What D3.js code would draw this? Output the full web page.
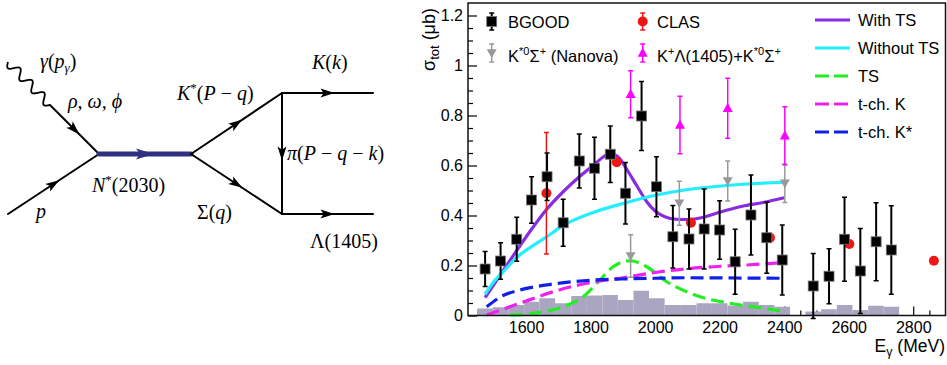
<!DOCTYPE html>
<html>
<head>
<meta charset="utf-8">
<script src="https://cdn.jsdelivr.net/npm/d3@7"></script>
<style>
body{margin:0;background:#fff;}
svg{display:block;}
text{fill:#000;}
</style>
</head>
<body>
<svg width="947" height="365"></svg>
<script>
// BGOOD data (E in MeV, sigma in microbarn)
const bgoodE   = [1473,1521,1571,1617,1665,1715,1765,1812,1861,1908,1958,2004,2055,2105,2152,2200,2248,2297,2346,2394,2490,2539,2587,2636,2685,2732];
const bgoodY   = [0.186,0.218,0.305,0.462,0.555,0.371,0.618,0.589,0.645,0.489,0.798,0.515,0.315,0.306,0.346,0.342,0.215,0.402,0.311,0.222,0.118,0.157,0.305,0.178,0.295,0.262];
const bgoodErr = [0.070,0.073,0.088,0.093,0.095,0.094,0.108,0.124,0.113,0.123,0.138,0.120,0.125,0.120,0.160,0.117,0.130,0.160,0.142,0.140,0.130,0.110,0.168,0.170,0.156,0.177];
const bgoodSys = [0.028,0.033,0.042,0.055,0.069,0.049,0.078,0.080,0.082,0.062,0.099,0.069,0.042,0.042,0.049,0.049,0.040,0.055,0.042,0.035,0.016,0.025,0.042,0.022,0.039,0.035];

// CLAS
const clasE   = [1663,1881,2111,2356,2602,2864];
const clasY   = [0.489,0.613,0.371,0.311,0.286,0.219];
const clasErr = [0.243,0.01,0.01,0.01,0.01,0.01];

// K*0 Sigma+ (Nanova)
const nanovaE   = [1924,2075,2225,2402];
const nanovaY   = [0.238,0.449,0.538,0.529];
const nanovaErr = [0.085,0.088,0.080,0.077];

// K+ Lambda(1405) + K*0 Sigma+
const sumE   = [1924,2077,2225,2402];
const sumY   = [0.885,0.762,0.829,0.719];
const sumErr = [0.094,0.115,0.120,0.116];

// model curves [E, sigma]
const withTS    = [[1473,0.072],[1529,0.180],[1571,0.260],[1617,0.345],[1664,0.425],[1715,0.495],[1765,0.555],[1812,0.605],[1840,0.635],[1862,0.648],[1890,0.628],[1912,0.585],[1945,0.515],[1974,0.455],[2000,0.418],[2030,0.395],[2065,0.385],[2100,0.384],[2150,0.393],[2200,0.413],[2270,0.437],[2335,0.452],[2400,0.471]];
const withoutTS = [[1473,0.085],[1500,0.135],[1529,0.175],[1571,0.232],[1622,0.280],[1664,0.315],[1715,0.360],[1808,0.412],[1912,0.452],[2005,0.482],[2077,0.499],[2180,0.515],[2284,0.526],[2400,0.533]];
const tsOnly    = [[1550,0.002],[1622,0.009],[1715,0.035],[1777,0.075],[1829,0.142],[1870,0.195],[1924,0.219],[1974,0.195],[2036,0.135],[2098,0.095],[2139,0.075],[2232,0.049],[2335,0.029],[2392,0.018]];
const tchK      = [[1478,0.002],[1581,0.049],[1684,0.095],[1788,0.129],[1891,0.149],[2000,0.172],[2098,0.187],[2180,0.195],[2284,0.202],[2392,0.211]];
const tchKstar  = [[1478,0.035],[1529,0.080],[1581,0.102],[1684,0.126],[1788,0.140],[1891,0.146],[2000,0.149],[2100,0.151],[2250,0.150],[2398,0.149]];

const xTicks = [1600,1800,2000,2200,2400,2600,2800];
const yTicks = [0,0.2,0.4,0.6,0.8,1,1.2];

const curves = [
    {name:'With TS',    data:withTS,    color:'#8a2be2', dash:null},
    {name:'Without TS', data:withoutTS, color:'#22eeff', dash:null},
    {name:'TS',         data:tsOnly,    color:'#22ee22', dash:'13,6'},
    {name:'t-ch. K',    data:tchK,      color:'#ee22ee', dash:'13,6'},
    {name:'t-ch. K*',   data:tchKstar,  color:'#1020e8', dash:'13,6'}
];

const sans = '"Liberation Sans", Arial, sans-serif';
const serif = '"Liberation Serif", "DejaVu Serif", serif';

const svg = d3.select('svg');

//---------------- Feynman diagram ----------------
const fey = svg.append('g');
const nodes = {
    gam: [8,62], A: [50,105], V1: [99,154], p: [8,214],
    V2: [191,154], V3: [282,93], V4: [282,214], K: [373,93], L: [373,214]
};

// photon wavy line
const g0 = nodes.gam, g1 = nodes.A;
const len = Math.hypot(g1[0]-g0[0], g1[1]-g0[1]);
const ux = (g1[0]-g0[0])/len, uy = (g1[1]-g0[1])/len;
const wave = d3.range(0, 1.0001, 0.01).map(t => {
    const s = Math.sin(t*Math.PI*2*3.5)*4.5;
    return [g0[0]+ux*len*t - uy*s, g0[1]+uy*len*t + ux*s];
});
fey.append('path').attr('d', d3.line().curve(d3.curveBasis)(wave))
    .attr('fill','none').attr('stroke','#000').attr('stroke-width',1.8);

const lines = [
    ['A','V1','#000',2],
    ['p','V1','#000',2],
    ['V1','V2','#303080',5],
    ['V2','V3','#000',2],
    ['V2','V4','#000',2],
    ['V3','V4','#000',2],
    ['V3','K','#000',2],
    ['V4','L','#000',2]
];
lines.forEach(l => {
    const a = nodes[l[0]], b = nodes[l[1]];
    fey.append('line').attr('x1',a[0]).attr('y1',a[1]).attr('x2',b[0]).attr('y2',b[1])
        .attr('stroke',l[2]).attr('stroke-width',l[3]).attr('stroke-linecap','round');
    const mx = (a[0]+b[0])/2, my = (a[1]+b[1])/2;
    const ang = Math.atan2(b[1]-a[1], b[0]-a[0])*180/Math.PI;
    const big = l[3] > 3;
    const hl = big ? 9 : 7, hw = big ? 5.5 : 4.5;
    fey.append('path')
        .attr('d', `M${hl},0 L${-hl},${-hw} L${-hl*0.55},0 L${-hl},${hw} Z`)
        .attr('transform', `translate(${mx},${my}) rotate(${ang})`)
        .attr('fill', l[2]);
});

function feyLabel(xp, yp, parts){
    const t = fey.append('text').attr('x',xp).attr('y',yp)
        .attr('font-family', serif).attr('font-size', 20);
    parts.forEach(p => {
        const s = t.append('tspan').text(p.t);
        if(p.i) s.attr('font-style','italic');
        if(p.sup) s.attr('font-size',13).attr('dy',-8);
        if(p.sub) s.attr('font-size',13).attr('dy',4);
        if(p.dy) s.attr('dy',p.dy);
    });
}
feyLabel(40,68,[{t:'γ',i:1},{t:'('},{t:'p',i:1},{t:'γ',i:1,sub:1},{t:')',dy:-4}]);
feyLabel(68,108,[{t:'ρ, ω, ϕ',i:1}]);
feyLabel(36,218,[{t:'p',i:1}]);
feyLabel(92,192,[{t:'N',i:1},{t:'*',sup:1},{t:'(2030)',dy:8}]);
feyLabel(177,100,[{t:'K',i:1},{t:'*',sup:1},{t:'(',dy:8},{t:'P',i:1},{t:' − '},{t:'q',i:1},{t:')'}]);
feyLabel(197,219,[{t:'Σ('},{t:'q',i:1},{t:')'}]);
feyLabel(312,69,[{t:'K',i:1},{t:'('},{t:'k',i:1},{t:')'}]);
feyLabel(287,160,[{t:'π',i:1},{t:'('},{t:'P',i:1},{t:' − '},{t:'q',i:1},{t:' − '},{t:'k',i:1},{t:')'}]);
feyLabel(310,248,[{t:'Λ(1405)'}]);

//---------------- Cross-section plot ----------------
const x = d3.scaleLinear().domain([1420,2900]).range([468,945.5]);
const y = d3.scaleLinear().domain([0,1.25]).range([315.5,3]);
const plot = svg.append('g').attr('font-family', sans);

// ticks
const xMinor = d3.range(1450, 2900, 50).filter(v => !xTicks.includes(v));
const yMinor = d3.range(0.05, 1.25, 0.05).map(v => +v.toFixed(2)).filter(v => !yTicks.some(t => Math.abs(t-v) < 1e-6));

plot.append('g').attr('transform',`translate(0,${y(0)})`)
    .call(d3.axisBottom(x).tickValues(xMinor).tickSizeInner(-5).tickSizeOuter(0).tickFormat(''));
plot.append('g').attr('transform',`translate(0,${y(0)})`)
    .call(d3.axisBottom(x).tickValues(xTicks).tickSizeInner(-9).tickSizeOuter(0).tickPadding(5).tickFormat(d3.format('d')))
    .call(g => g.selectAll('text').attr('font-size',16).attr('font-family',sans).attr('dy','0.8em'));
plot.append('g').attr('transform',`translate(${x.range()[0]},0)`)
    .call(d3.axisLeft(y).tickValues(yMinor).tickSizeInner(-5).tickSizeOuter(0).tickFormat(''));
plot.append('g').attr('transform',`translate(${x.range()[0]},0)`)
    .call(d3.axisLeft(y).tickValues(yTicks).tickSizeInner(-9).tickSizeOuter(0).tickPadding(5).tickFormat(d3.format('')))
    .call(g => g.selectAll('text').attr('font-size',16).attr('font-family',sans));
plot.selectAll('.domain').remove();
plot.selectAll('.tick line').attr('stroke','#000').attr('stroke-width',1.2);

// systematic histogram
const hist = plot.append('g');
bgoodE.forEach((e,i) => {
    const prev = bgoodE[i-1], next = bgoodE[i+1];
    const lo = (prev !== undefined && e-prev < 60) ? (e+prev)/2 : e-24.3;
    const hi = (next !== undefined && next-e < 60) ? (e+next)/2 : e+24.3;
    hist.append('rect')
        .attr('x', x(lo)).attr('width', x(hi)-x(lo))
        .attr('y', y(bgoodSys[i])).attr('height', y(0)-y(bgoodSys[i]))
        .attr('fill','#aaa6c2');
});

// model curves
const line = d3.line().x(d => x(d[0])).y(d => y(d[1])).curve(d3.curveMonotoneX);
curves.forEach(c => {
    plot.append('path').attr('d', line(c.data))
        .attr('fill','none').attr('stroke',c.color).attr('stroke-width',3.2)
        .attr('stroke-dasharray', c.dash);
});

// markers
function errBar(g, cx, cy, dy, color, w){
    if(dy <= 0) return;
    g.append('line').attr('x1',cx).attr('x2',cx).attr('y1',cy-dy).attr('y2',cy+dy)
        .attr('stroke',color).attr('stroke-width',w);
    [cy-dy, cy+dy].forEach(yy => g.append('line').attr('x1',cx-2.5).attr('x2',cx+2.5)
        .attr('y1',yy).attr('y2',yy).attr('stroke',color).attr('stroke-width',1.5));
}
function marker(g, type, cx, cy){
    if(type === 'square'){
        g.append('rect').attr('x',cx-5).attr('y',cy-5).attr('width',10).attr('height',10)
            .attr('fill','#000').attr('stroke','#777').attr('stroke-width',0.8);
    } else if(type === 'circle'){
        g.append('circle').attr('cx',cx).attr('cy',cy).attr('r',5).attr('fill','#ee1515');
    } else if(type === 'down'){
        g.append('path').attr('d',`M${cx-5},${cy-3.8} L${cx+5},${cy-3.8} L${cx},${cy+5} Z`).attr('fill','#999');
    } else if(type === 'up'){
        g.append('path').attr('d',`M${cx-5},${cy+3.8} L${cx+5},${cy+3.8} L${cx},${cy-5.5} Z`).attr('fill','#ff00ff');
    }
}
function series(E, Y, Err, type, color, w){
    const g = plot.append('g');
    E.forEach((e,i) => {
        const cy = y(Y[i]);
        const dy = y(0) - y(Err[i]);
        errBar(g, x(e), cy, dy, color, w);
        marker(g, type, x(e), cy);
    });
}
series(nanovaE, nanovaY, nanovaErr, 'down', '#999', 1.5);
series(sumE, sumY, sumErr, 'up', '#ff00ff', 1.5);
series(clasE, clasY, clasErr, 'circle', '#ee1515', 1.5);
series(bgoodE, bgoodY, bgoodErr, 'square', '#000', 2);

// frame
plot.append('rect').attr('x',x.range()[0]).attr('y',y.range()[1])
    .attr('width',x.range()[1]-x.range()[0]).attr('height',y.range()[0]-y.range()[1])
    .attr('fill','none').attr('stroke','#111').attr('stroke-width',1.5);

// axis titles
const yt = plot.append('text').attr('transform','translate(435,8) rotate(-90)')
    .attr('text-anchor','end').attr('font-size',18);
yt.append('tspan').text('σ');
yt.append('tspan').text('tot').attr('font-size',13).attr('dy',4);
yt.append('tspan').text(' (μb)').attr('dy',-4);

const xt = plot.append('text').attr('x',945).attr('y',352).attr('text-anchor','end').attr('font-size',17.5);
xt.append('tspan').text('E');
xt.append('tspan').text('γ').attr('font-size',12.5).attr('dy',4);
xt.append('tspan').text(' (MeV)').attr('dy',-4);

// legend
const leg = plot.append('g');
function legText(xp, yp, parts){
    const t = leg.append('text').attr('x',xp).attr('y',yp).attr('font-size',16.5);
    parts.forEach(p => {
        const s = t.append('tspan').text(p.t);
        if(p.sup) s.attr('font-size',11).attr('dy',-7);
        if(p.dy) s.attr('dy',p.dy);
    });
}
errBar(leg, 491.7, 21.5, 8.5, '#000', 2); marker(leg,'square',491.7,21.5);
legText(508, 27.5, [{t:'BGOOD'}]);
errBar(leg, 491.7, 53, 9, '#999', 1.5); marker(leg,'down',491.7,53);
legText(508, 61.5, [{t:'K'},{t:'*0',sup:1},{t:'Σ',dy:7},{t:'+',sup:1},{t:' (Nanova)',dy:7}]);
errBar(leg, 642.7, 21.5, 8.5, '#ee1515', 1.5); marker(leg,'circle',642.7,21.5);
legText(657, 27.5, [{t:'CLAS'}]);
errBar(leg, 642.7, 53, 9, '#ff00ff', 1.5); marker(leg,'up',642.7,53);
legText(657, 61.5, [{t:'K'},{t:'+',sup:1},{t:'Λ(1405)+K',dy:7},{t:'*0',sup:1},{t:'Σ',dy:7},{t:'+',sup:1}]);

curves.forEach((c,i) => {
    const ly = 20 + i*28;
    leg.append('line').attr('x1',815).attr('x2',850).attr('y1',ly).attr('y2',ly)
        .attr('stroke',c.color).attr('stroke-width',3.2).attr('stroke-dasharray', c.dash ? '14,5' : null);
    leg.append('text').attr('x',858).attr('y',ly+6).attr('font-size',16.5).text(c.name);
});
</script>
</body>
</html>
